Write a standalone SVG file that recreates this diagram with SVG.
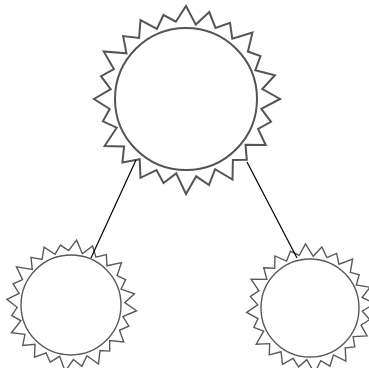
<svg xmlns="http://www.w3.org/2000/svg" xmlns:xlink="http://www.w3.org/1999/xlink" width="369" height="368" viewBox="0 0 369 368">
<style>
.rays{fill:#fff;stroke:#555;stroke-linejoin:miter}
.core{fill:#fff;stroke:#555}
.big .rays,.big .core{stroke-width:2}
.small .rays,.small .core{stroke-width:1.4;stroke:#5a5a5a}
.edge{stroke:#000;stroke-width:1.2;fill:none}
</style>
<defs>
<polygon id="star" vector-effect="non-scaling-stroke" points="94,0 75.3,9.9 85,22.8 72.1,29.9 79.7,46 59.5,45.7 60.8,60.8 46.9,61.1 46.5,80.5 29.1,70.2 23,86 10.2,77.3 0,95 -9.8,74.4 -22.5,84 -29.5,71.1 -45.5,78.8 -46.3,60.3 -63.6,63.6 -61.9,47.5 -81.4,47 -69.3,28.7 -83.1,22.3 -76.3,10 -92,0 -75.3,-9.9 -85,-22.8 -72.1,-29.9 -82.3,-47.5 -59.5,-45.7 -62.9,-62.9 -46.9,-61.1 -45.5,-78.8 -29.1,-70.2 -22.5,-84 -10.2,-77.3 0,-93 9.8,-74.4 23.3,-86.9 29.5,-71.1 44,-76.2 46.3,-60.3 66.5,-66.5 61.9,-47.5 74.5,-43 69.3,-28.7 88.9,-23.8 76.3,-10"/>
</defs>
<g id="node-top" class="big">
<use xlink:href="#star" href="#star" class="rays" transform="translate(186,99)"/>
<circle class="core" cx="186" cy="99" r="71"/>
</g>
<g id="node-left" class="small">
<use xlink:href="#star" href="#star" class="rays" transform="translate(71,305) rotate(5) scale(0.7)"/>
<circle class="core" cx="71" cy="305" r="50"/>
</g>
<g id="node-right" class="small">
<use xlink:href="#star" href="#star" class="rays" transform="translate(310,308) rotate(-4) scale(0.69)"/>
<circle class="core" cx="310" cy="308" r="49"/>
</g>
<g id="connectors">
<line class="edge" x1="136" y1="160" x2="91" y2="258"/>
<line class="edge" x1="247" y1="162" x2="297" y2="258"/>
</g>
</svg>
